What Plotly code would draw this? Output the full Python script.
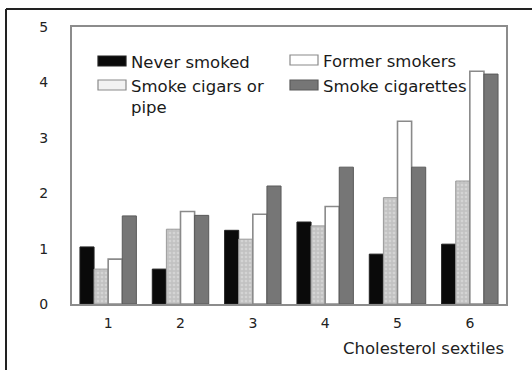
import plotly.graph_objects as go

categories = ["1", "2", "3", "4", "5", "6"]
never_smoked = [1.03, 0.63, 1.33, 1.48, 0.90, 1.08]
cigars_pipe = [0.63, 1.35, 1.17, 1.41, 1.92, 2.22]
former_smokers = [0.81, 1.67, 1.62, 1.76, 3.30, 4.20]
cigarettes = [1.59, 1.60, 2.13, 2.47, 2.47, 4.15]
y_ticks = [0, 1, 2, 3, 4, 5]

W, H = 532, 370
L, R, T, B = 72, 506, 27, 304
FONT = "DejaVu Sans, Liberation Sans, Arial, sans-serif"

fig = go.Figure()
fig.add_bar(x=categories, y=never_smoked, name="Never smoked",
            marker=dict(color="#0a0a0a", line=dict(color="#222", width=1)))
fig.add_bar(x=categories, y=cigars_pipe, name="Smoke cigars or pipe",
            marker=dict(color="#c4c4c4", line=dict(color="#9a9a9a", width=1),
                        pattern=dict(shape=".", bgcolor="#c2c2c2", fgcolor="#e6e6e6",
                                     size=4, solidity=0.35)))
fig.add_bar(x=categories, y=former_smokers, name="Former smokers",
            marker=dict(color="#ffffff", line=dict(color="#8a8a8a", width=1.6)))
fig.add_bar(x=categories, y=cigarettes, name="Smoke cigarettes",
            marker=dict(color="#767676", line=dict(color="#5a5a5a", width=1)))

def px(x):
    return (x - L) / (R - L)

def py(y):
    return (B - y) / (B - T)

shapes = []
annotations = []
legend_items = [
    ("Never smoked", 98, 56, "#0a0a0a", "#222"),
    ("Smoke cigars or<br>pipe", 98, 80, "#f2f2f2", "#8a8a8a"),
    ("Former smokers", 290, 55, "#ffffff", "#8a8a8a"),
    ("Smoke cigarettes", 290, 80, "#767676", "#5a5a5a"),
]
for text, x0, y0, fill, line in legend_items:
    shapes.append(dict(type="rect", xref="paper", yref="paper",
                       x0=px(x0), x1=px(x0 + 28), y0=py(y0 + 10), y1=py(y0),
                       fillcolor=fill, line=dict(color=line, width=1.2)))
    annotations.append(dict(text=text, xref="paper", yref="paper",
                            x=px(x0 + 31), y=py(y0 - 5), xanchor="left", yanchor="top",
                            align="left", showarrow=False,
                            font=dict(family=FONT, size=16.5, color="#1a1a1a")))

annotations.append(dict(text="Cholesterol sextiles", xref="paper", yref="paper",
                        x=1.0, y=py(348), xanchor="right", yanchor="middle",
                        showarrow=False, font=dict(family=FONT, size=16.5, color="#222")))

# outer L-shaped border of the figure
shapes.append(dict(type="line", xref="paper", yref="paper",
                   x0=px(6), x1=px(534), y0=py(9), y1=py(9),
                   line=dict(color="#222", width=2)))
shapes.append(dict(type="line", xref="paper", yref="paper",
                   x0=px(6), x1=px(6), y0=py(9), y1=py(372),
                   line=dict(color="#222", width=2)))

fig.update_layout(
    width=W, height=H,
    margin=dict(l=L, r=W - R, t=T, b=H - B, autoexpand=False),
    paper_bgcolor="white", plot_bgcolor="white",
    barmode="group", bargap=0.22, bargroupgap=0.0,
    showlegend=False,
    shapes=shapes, annotations=annotations,
    font=dict(family=FONT, size=14, color="#222"),
    xaxis=dict(showline=True, mirror=True, linecolor="#8c8c8c", linewidth=2,
               ticks="", showgrid=False, ticklabelstandoff=5, automargin=False,
               tickfont=dict(family=FONT, size=14, color="#222")),
    yaxis=dict(range=[0, 5], tickvals=y_ticks, showline=True, mirror=True,
               linecolor="#8c8c8c", linewidth=2, ticks="", showgrid=False,
               zeroline=False, ticklabelstandoff=19, automargin=False,
               tickfont=dict(family=FONT, size=14, color="#222")),
)

fig.write_html("out.html", config={"displayModeBar": False},
               post_script="document.body.style.margin='0px';document.body.style.overflow='hidden';")
